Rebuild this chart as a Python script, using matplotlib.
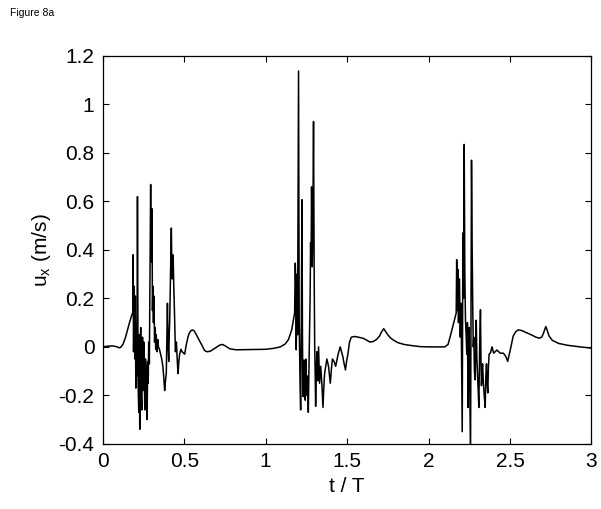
import numpy as np
import matplotlib.pyplot as plt

plt.rcParams['font.family'] = ['Liberation Sans', 'DejaVu Sans']

# =========================================
# Datos: u_x vs t/T
# =========================================

# ciclo 1 (t/T de 0 a ~1.15)
t_c1 = [0.00, 0.03, 0.06, 0.09, 0.10, 0.11, 0.125, 0.14, 0.16, 0.175, 0.186,
        0.186, 0.189, 0.193, 0.197, 0.20, 0.203, 0.206, 0.21, 0.213, 0.217,
        0.221, 0.224, 0.227, 0.23, 0.233, 0.236, 0.24, 0.244, 0.248, 0.252,
        0.258, 0.262, 0.266, 0.269, 0.272, 0.276, 0.279, 0.282, 0.286, 0.29,
        0.294, 0.296, 0.298, 0.30, 0.302, 0.305, 0.308, 0.311, 0.314, 0.318,
        0.322, 0.325, 0.328, 0.331, 0.334, 0.338, 0.342, 0.348, 0.355, 0.362,
        0.369, 0.375, 0.38, 0.385, 0.39, 0.397, 0.401, 0.405, 0.408, 0.411,
        0.416, 0.421, 0.424, 0.427, 0.43, 0.433, 0.436, 0.44, 0.446, 0.452,
        0.457, 0.462, 0.467, 0.472, 0.48, 0.487, 0.495, 0.503, 0.513, 0.523,
        0.53, 0.54, 0.55, 0.56, 0.575, 0.59, 0.61, 0.625, 0.64, 0.66, 0.69,
        0.72, 0.735, 0.75, 0.78, 0.82, 0.90, 1.00, 1.05, 1.09, 1.12, 1.14,
        1.16]
u_c1 = [0.000, 0.003, 0.004, 0.000, -0.004, -0.002, 0.012, 0.040, 0.090, 0.125, 0.146,
        0.380, -0.020, 0.250, -0.050, 0.210, -0.170, 0.100, -0.120, 0.620, -0.150,
        -0.270, 0.050, -0.340, 0.000, 0.080, -0.200, -0.260, 0.040, -0.180, 0.020,
        -0.260, -0.050, -0.080, -0.220, -0.300, -0.060, -0.150, 0.020, -0.070, 0.300,
        0.670, 0.400, 0.520, 0.350, 0.570, 0.150, 0.250, 0.100, 0.210, 0.020,
        0.080, -0.010, 0.050, 0.010, -0.020, 0.030, 0.000, -0.010, -0.030, -0.050,
        -0.080, -0.130, -0.180, -0.140, -0.110, 0.180, 0.000, -0.060, 0.050, 0.110,
        0.300, 0.490, 0.330, 0.280, 0.380, 0.350, 0.250, 0.150, -0.020, 0.020,
        -0.050, -0.110, -0.060, -0.030, -0.010, -0.020, -0.025, -0.030, 0.010, 0.040,
        0.055, 0.066, 0.070, 0.067, 0.050, 0.030, 0.005, -0.015, -0.020, -0.018, -0.005,
        0.008, 0.010, 0.005, -0.008, -0.012, -0.011, -0.010, -0.006, 0.000, 0.012, 0.030,
        0.070]

# ciclo 2
t_c2 = [1.178, 1.182, 1.184, 1.186, 1.188, 1.192, 1.196, 1.202, 1.206, 1.209,
        1.212, 1.215, 1.219, 1.223, 1.226, 1.229, 1.233, 1.236, 1.24, 1.243,
        1.247, 1.25, 1.255, 1.258, 1.262, 1.266, 1.27, 1.273, 1.276, 1.279,
        1.282, 1.286, 1.29, 1.294, 1.298, 1.301, 1.304, 1.307, 1.311, 1.315,
        1.32, 1.325, 1.331, 1.338, 1.345, 1.352, 1.357, 1.362, 1.369, 1.376,
        1.386, 1.397, 1.404, 1.41, 1.42, 1.43, 1.445, 1.458, 1.466, 1.474,
        1.482, 1.49, 1.497, 1.505, 1.515, 1.526, 1.546, 1.57, 1.60, 1.62,
        1.64, 1.66, 1.68, 1.70, 1.71, 1.725, 1.74, 1.75, 1.765, 1.78, 1.81,
        1.85, 1.90, 1.95, 2.00, 2.067, 2.10, 2.12]
u_c2 = [0.140, 0.346, 0.290, 0.220, -0.012, 0.300, 0.050, 1.138, 0.100, -0.054,
        -0.180, -0.260, 0.100, 0.607, 0.050, -0.205, -0.100, -0.054, -0.180, -0.220,
        -0.050, -0.140, -0.200, -0.120, -0.270, -0.080, 0.070, 0.200, 0.430, 0.350,
        0.660, 0.330, 0.500, 0.930, 0.300, 0.010, -0.100, -0.245, -0.100, -0.020,
        -0.140, 0.000, -0.150, -0.080, -0.150, -0.250, -0.170, -0.110, -0.080, -0.050,
        -0.080, -0.150, -0.090, -0.050, -0.060, -0.080, -0.030, 0.000, -0.020, -0.040,
        -0.070, -0.095, -0.060, -0.030, 0.020, 0.040, 0.043, 0.040, 0.035, 0.028,
        0.020, 0.022, 0.030, 0.045, 0.060, 0.075, 0.060, 0.050, 0.038, 0.030, 0.018,
        0.010, 0.005, 0.001, 0.000, 0.000, 0.000, 0.010]

# ciclo 3
t_c3 = [2.14, 2.155, 2.17, 2.173, 2.177, 2.18, 2.184, 2.19, 2.195, 2.20,
        2.204, 2.207, 2.211, 2.215, 2.219, 2.223, 2.227, 2.231, 2.235, 2.239,
        2.243, 2.246, 2.249, 2.253, 2.258, 2.264, 2.268, 2.272, 2.275, 2.278,
        2.282, 2.286, 2.29, 2.293, 2.297, 2.301, 2.305, 2.309, 2.314, 2.319,
        2.322, 2.325, 2.329, 2.332, 2.337, 2.342, 2.348, 2.352, 2.356, 2.36,
        2.364, 2.368, 2.372, 2.38, 2.39, 2.40, 2.42, 2.44, 2.46, 2.475, 2.486,
        2.496, 2.506, 2.52, 2.535, 2.55, 2.57, 2.59, 2.63, 2.66, 2.68, 2.695,
        2.705, 2.715, 2.72, 2.728, 2.74, 2.76, 2.80, 2.85, 2.93, 3.00]
u_c3 = [0.060, 0.100, 0.140, 0.360, 0.150, 0.320, 0.100, 0.280, 0.040, 0.180,
        -0.100, -0.350, 0.470, 0.200, 0.835, 0.300, 0.110, 0.050, -0.030, 0.100,
        -0.250, -0.050, 0.080, -0.150, -0.450, 0.770, 0.400, 0.140, 0.000, 0.040,
        -0.100, -0.136, 0.000, 0.110, -0.050, -0.110, -0.180, -0.250, 0.000, 0.153,
        -0.050, -0.160, -0.100, -0.070, -0.150, -0.200, -0.250, -0.120, -0.070, -0.150,
        -0.190, -0.080, -0.030, -0.025, 0.000, -0.026, -0.013, -0.026, -0.026, -0.040,
        -0.060, -0.030, 0.000, 0.045, 0.062, 0.070, 0.068, 0.062, 0.050, 0.040, 0.036,
        0.040, 0.055, 0.075, 0.084, 0.070, 0.045, 0.027, 0.014, 0.007, 0.000, -0.005]

t = np.array(t_c1 + t_c2 + t_c3)
u = np.array(u_c1 + u_c2 + u_c3)

x_ticks = [0, 0.5, 1, 1.5, 2, 2.5, 3]
y_ticks = [-0.4, -0.2, 0, 0.2, 0.4, 0.6, 0.8, 1, 1.2]

# =========================================
# Grafica
# =========================================

fig = plt.figure(figsize=(6.01, 5.09), dpi=100)
ax = fig.add_axes([0.171, 0.128, 0.813, 0.762])

ax.plot(t, u, color='black', linewidth=1.1)

ax.set_xlim(0, 3)
ax.set_ylim(-0.4, 1.2)
ax.set_xticks(x_ticks)
ax.set_xticklabels(['0', '0.5', '1', '1.5', '2', '2.5', '3'])
ax.set_yticks(y_ticks)
ax.set_yticklabels(['-0.4', '-0.2', '0', '0.2', '0.4', '0.6', '0.8', '1', '1.2'])

ax.tick_params(direction='in', top=True, right=True, length=4, width=0.8,
               labelsize=15, pad=6)
for s in ax.spines.values():
    s.set_linewidth(0.9)

ax.set_xlabel('t / T', fontsize=15, labelpad=4)
ax.set_ylabel('u$_\\mathregular{x}$ (m/s)', fontsize=15, labelpad=4)

fig.text(0.017, 0.975, 'Figure 8a', fontsize=7.5, ha='left', va='center')

fig.savefig('out.png', dpi=100)
